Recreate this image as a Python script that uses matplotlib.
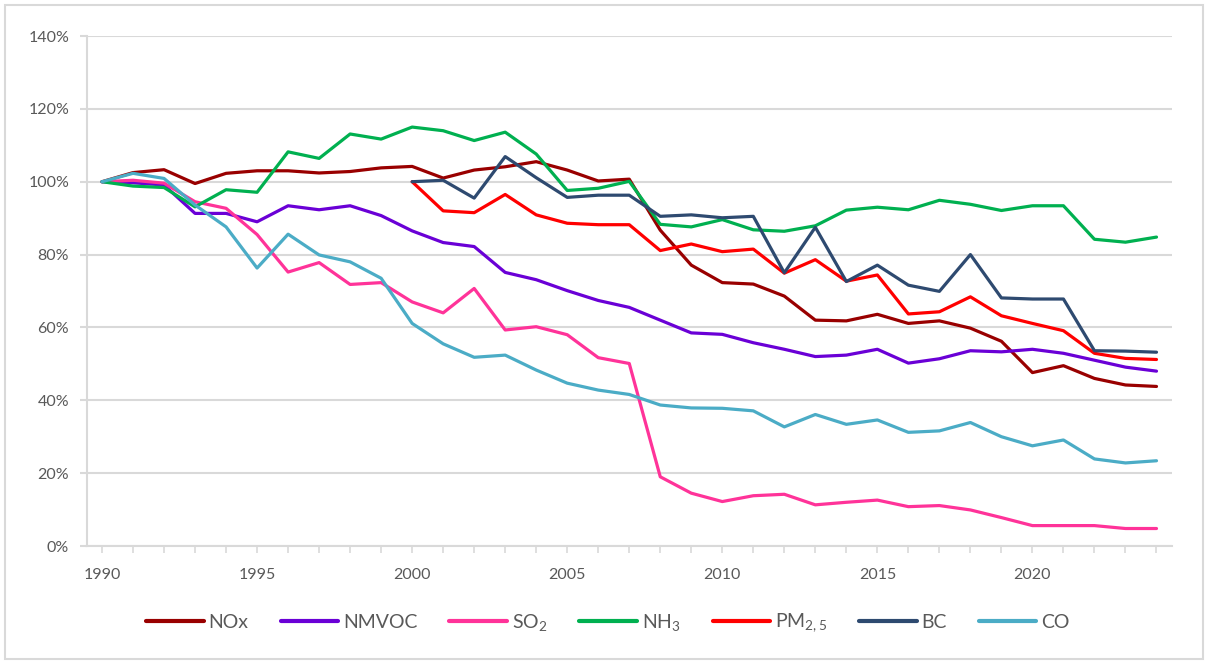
import matplotlib
matplotlib.use("Agg")
import matplotlib.pyplot as plt
import matplotlib.ticker as mticker
from matplotlib.patches import Rectangle
import numpy as np

plt.rcParams['font.family'] = ['Lato', 'DejaVu Sans']
plt.rcParams['mathtext.fontset'] = 'custom'
plt.rcParams['mathtext.rm'] = 'Lato'
plt.rcParams['mathtext.it'] = 'Lato'
plt.rcParams['mathtext.bf'] = 'Lato'
plt.rcParams['mathtext.default'] = 'regular'

years = list(range(1990, 2025))
years_2000 = list(range(2000, 2025))

nox = [100, 102.5, 103.3, 99.5, 102.3, 103, 103, 102.4, 102.8, 103.8, 104.2,
       101, 103.2, 104.1, 105.5, 103.2, 100.2, 100.7, 86.7, 77.1, 72.3,
       71.9, 68.6, 62.0, 61.8, 63.6, 61.1, 61.8, 59.8, 56.2, 47.6,
       49.5, 46.0, 44.2, 43.8]
nmvoc = [100, 99.7, 99.1, 91.3, 91.3, 89.0, 93.4, 92.3, 93.4, 90.7, 86.5,
         83.3, 82.2, 75.1, 73.1, 70.1, 67.4, 65.5, 62.0, 58.5, 58.1,
         55.8, 54.0, 52.0, 52.4, 54.0, 50.2, 51.4, 53.6, 53.3, 54.0,
         52.9, 51.0, 49.1, 48.0]
so2 = [100, 100.4, 99.6, 94.5, 92.7, 85.5, 75.2, 77.8, 71.8, 72.3, 67.0,
       64.0, 70.7, 59.3, 60.2, 58.0, 51.7, 50.1, 19.0, 14.5, 12.2,
       13.8, 14.2, 11.3, 12.0, 12.6, 10.8, 11.1, 9.9, 7.8, 5.6,
       5.6, 5.6, 4.8, 4.8]
nh3 = [100, 98.8, 98.4, 93.1, 97.8, 97.1, 108.2, 106.4, 113.1, 111.7, 115.0,
       114.0, 111.3, 113.6, 107.6, 97.6, 98.2, 100.1, 88.3, 87.6, 89.6,
       86.8, 86.4, 87.9, 92.2, 93.0, 92.3, 94.9, 93.8, 92.1, 93.4,
       93.4, 84.2, 83.4, 84.8]
pm25 = [100, 92.0, 91.5, 96.5, 90.9, 88.6, 88.2, 88.2, 81.1, 82.9, 80.8,
        81.5, 74.9, 78.6, 72.7, 74.4, 63.7, 64.3, 68.4, 63.2, 61.1,
        59.1, 52.9, 51.5, 51.2]
bc = [100, 100.4, 95.5, 106.9, 101.1, 95.7, 96.3, 96.3, 90.5, 90.9, 90.1,
      90.5, 75.0, 87.5, 72.6, 77.1, 71.6, 69.9, 80.0, 68.1, 67.8,
      67.8, 53.6, 53.5, 53.2]
co = [100, 102.3, 100.9, 93.6, 87.6, 76.3, 85.6, 79.9, 78.0, 73.5, 61.1,
      55.5, 51.8, 52.4, 48.3, 44.7, 42.8, 41.6, 38.7, 37.9, 37.8,
      37.1, 32.7, 36.1, 33.4, 34.6, 31.2, 31.6, 33.9, 30.0, 27.5,
      29.1, 23.9, 22.8, 23.4]

series = [
    ("NOx", years, nox, "#990000"),
    ("NMVOC", years, nmvoc, "#6a00d6"),
    ("SO$_2$", years, so2, "#ff3399"),
    ("NH$_3$", years, nh3, "#00b050"),
    ("PM$_{2,5}$", years_2000, pm25, "#ff0000"),
    ("BC", years_2000, bc, "#2e4a70"),
    ("CO", years, co, "#4bacc6"),
]

W, H = 1207, 662
fig = plt.figure(figsize=(W / 100, H / 100), dpi=100)
ax = fig.add_axes([86.5 / W, 1 - 546 / H, (1172 - 86.5) / W, (546 - 36) / H])

for name, xs, ys, col in series:
    ax.plot(xs, np.array(ys) / 100.0, color=col, lw=2.3, label=name,
            solid_capstyle='round', solid_joinstyle='round')

grey = "#d9d9d9"
txt = "#595959"
ax.set_xlim(1989.5, 2024.5)
ax.set_ylim(0, 1.4)
ax.yaxis.set_major_locator(mticker.MultipleLocator(0.2))
ax.yaxis.set_major_formatter(mticker.FuncFormatter(lambda v, p: f"{v*100:.0f}%"))
ax.set_xticks(years)
ax.set_xticklabels([str(y) if y % 5 == 0 else "" for y in years])
ax.grid(axis='y', color=grey, lw=1.5)
ax.set_axisbelow(True)
for s in ['top', 'right']:
    ax.spines[s].set_visible(False)
for s in ['left', 'bottom']:
    ax.spines[s].set_color(grey)
    ax.spines[s].set_linewidth(1.5)
ax.tick_params(axis='y', length=5, width=1.5, color=grey, labelcolor=txt,
               labelsize=11.5, pad=7.5)
ax.tick_params(axis='x', length=5, width=1.2, color=grey, labelcolor=txt,
               labelsize=11.5, pad=10.5)

leg = fig.legend(loc='center', bbox_to_anchor=(608 / W, 1 - 623 / H), ncol=7,
                 frameon=False, fontsize=14, handlelength=2.95,
                 columnspacing=1.65, handletextpad=0.25)
for t in leg.get_texts():
    t.set_color(txt)
for l in leg.get_lines():
    l.set_linewidth(3)

fig.patches.append(Rectangle((5 / W, 3 / H), (1203 - 5) / W, (657 - 3) / H,
                             transform=fig.transFigure, fill=False,
                             edgecolor=grey, lw=1.5))

fig.savefig("out.png", dpi=100)
